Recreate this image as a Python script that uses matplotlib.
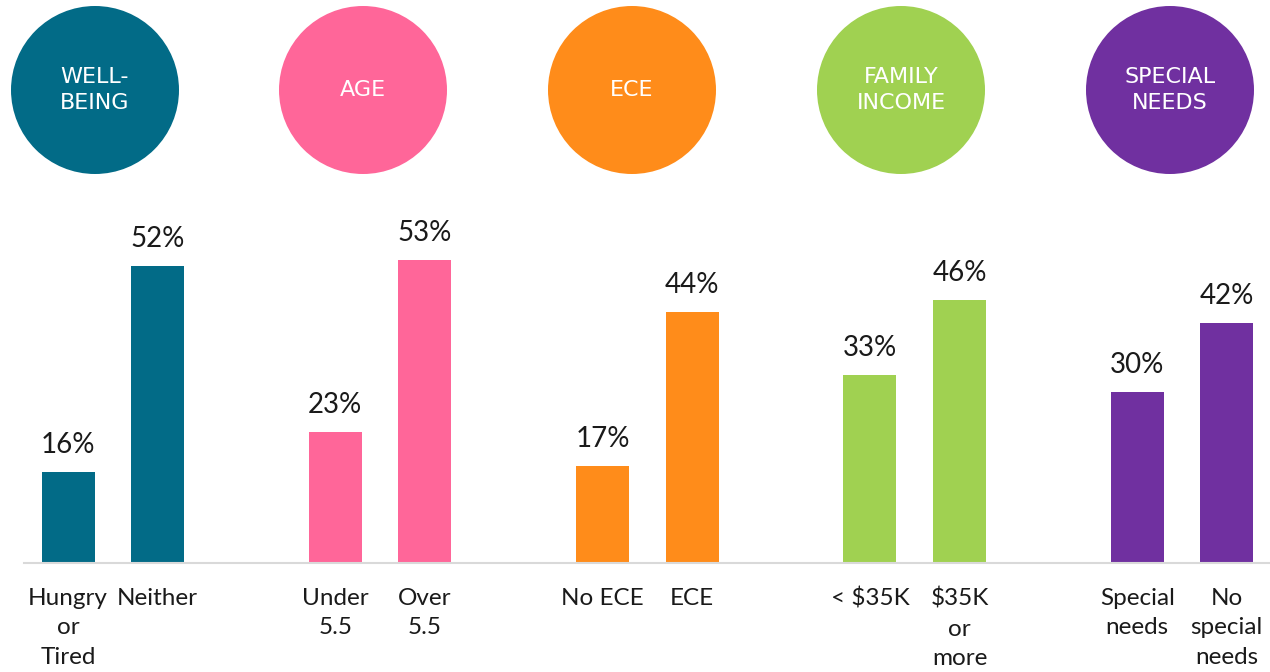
import matplotlib.pyplot as plt
from matplotlib.patches import Circle

# data
groups = ['WELL-\nBEING', 'AGE', 'ECE', 'FAMILY\nINCOME', 'SPECIAL\nNEEDS']
colors = ['#026B87', '#FF6699', '#FF8C1A', '#A0D151', '#7030A0']
bar_labels = [
    ['Hungry\nor\nTired', 'Neither'],
    ['Under\n5.5', 'Over\n5.5'],
    ['No ECE', 'ECE'],
    ['< \\$35K', '\\$35K\nor\nmore'],
    ['Special\nneeds', 'No\nspecial\nneeds'],
]
values = [[16, 52], [23, 53], [17, 44], [33, 46], [30, 42]]

plt.rcParams['font.family'] = ['Lato', 'DejaVu Sans']

fig = plt.figure(figsize=(12.7, 6.72), dpi=100)

# bar axes: baseline at 563px from top
ax = fig.add_axes([24 / 1270, 109 / 672, 1246 / 1270, 342.6 / 672])
ax.set_xlim(-0.494, 13.49)
ax.set_ylim(0, 60)
for g, (vals, labs, col) in enumerate(zip(values, bar_labels, colors)):
    xs = [3 * g, 3 * g + 1.005]
    ax.bar(xs, vals, width=0.595, color=col)
    for x, v, lab in zip(xs, vals, labs):
        ax.annotate(f'{v}%', (x, v), xytext=(0, 10), textcoords='offset points',
                    ha='center', va='bottom', fontsize=20, color='#1a1a1a')
        ax.annotate(lab, (x, 0), xytext=(0, -18), textcoords='offset points',
                    ha='center', va='top', fontsize=17.5, color='#1a1a1a',
                    linespacing=1.5)
for s in ['top', 'right', 'left']:
    ax.spines[s].set_visible(False)
ax.spines['bottom'].set_color('#D9D9D9')
ax.spines['bottom'].set_linewidth(1.5)
ax.set_xticks([])
ax.set_yticks([])

# circles overlay in pixel coordinates
cax = fig.add_axes([0, 0, 1, 1])
cax.set_xlim(0, 1270)
cax.set_ylim(672, 0)
cax.axis('off')
circle_x = [95, 363, 632, 901, 1170]
for cx, name, col in zip(circle_x, groups, colors):
    cax.add_patch(Circle((cx, 90), 84, color=col, lw=0))
    cax.text(cx, 90, name, ha='center', va='center', color='white',
             fontsize=16, family='DejaVu Sans', linespacing=1.4)

fig.savefig('out.png', dpi=100)
